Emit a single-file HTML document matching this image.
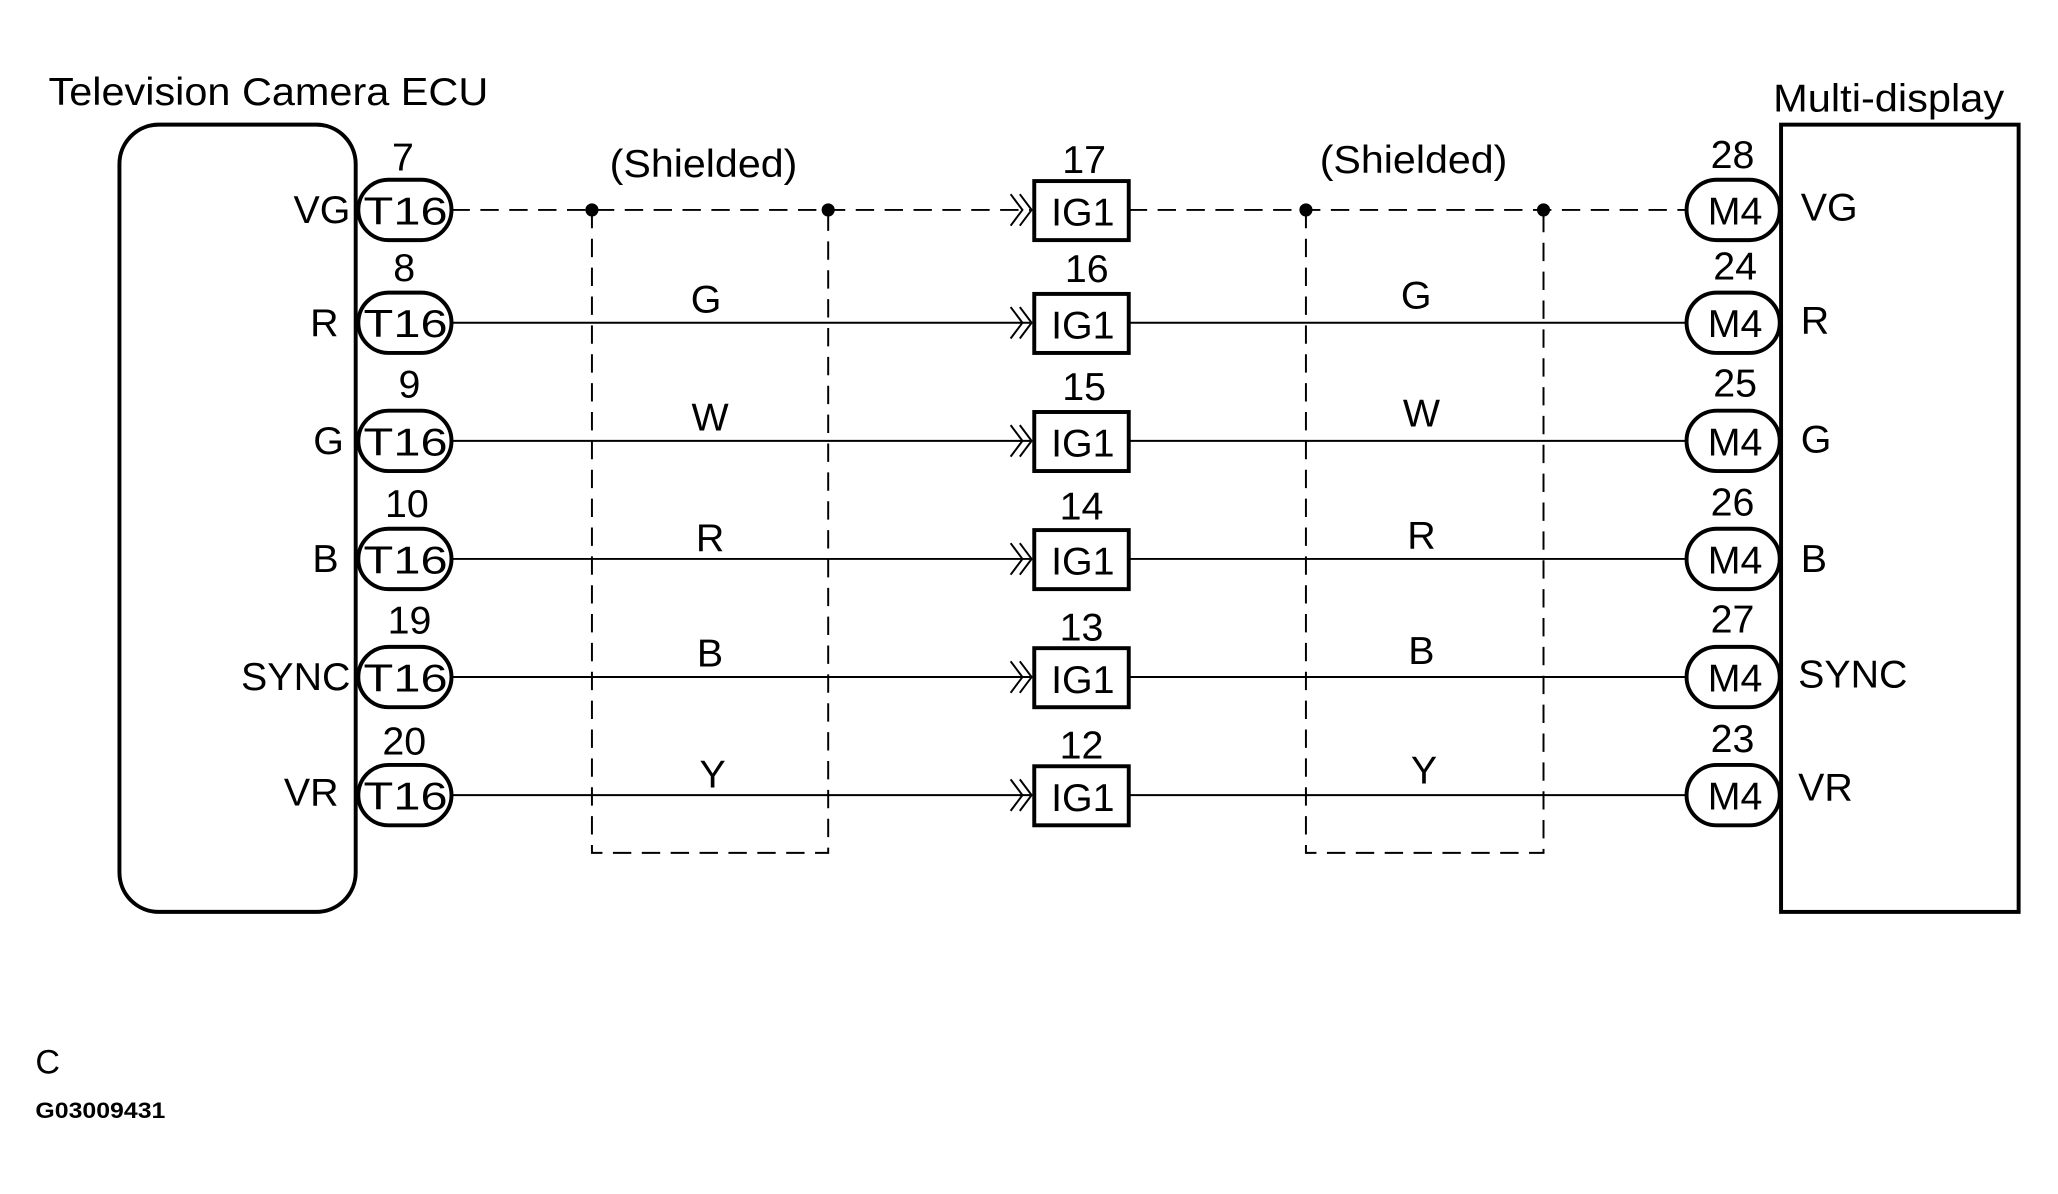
<!DOCTYPE html>
<html><head><meta charset="utf-8"><style>html,body{margin:0;padding:0;background:#fff}svg{display:block}</style></head>
<body>
<svg width="2058" height="1194" viewBox="0 0 1568 910" preserveAspectRatio="none" xmlns="http://www.w3.org/2000/svg" font-family="Liberation Sans, sans-serif">
<rect width="1568" height="910" fill="#fff"/>
<g fill="none" stroke="#000">
<rect x="91" y="95" width="180" height="600" rx="30" stroke-width="3"/>
<rect x="1357" y="95" width="181" height="600" stroke-width="3"/>
<path d="M451 160 V650 H631 V160" stroke-width="1.5" stroke-dasharray="14,8"/>
<path d="M995 160 V650 H1176 V160" stroke-width="1.5" stroke-dasharray="14,8"/>
<line x1="344" y1="160" x2="785" y2="160" stroke-width="1.5" stroke-dasharray="14,8"/>
<line x1="860" y1="160" x2="1285" y2="160" stroke-width="1.5" stroke-dasharray="14,8"/>
<g stroke-width="1.5">
<line x1="344" y1="246" x2="785" y2="246"/><line x1="860" y1="246" x2="1285" y2="246"/>
<line x1="344" y1="336" x2="785" y2="336"/><line x1="860" y1="336" x2="1285" y2="336"/>
<line x1="344" y1="426" x2="785" y2="426"/><line x1="860" y1="426" x2="1285" y2="426"/>
<line x1="344" y1="516" x2="785" y2="516"/><line x1="860" y1="516" x2="1285" y2="516"/>
<line x1="344" y1="606" x2="785" y2="606"/><line x1="860" y1="606" x2="1285" y2="606"/>
<path d="M770 148 L779 160 L770 172 M777 148 L786 160 L777 172"/>
<path d="M770 234 L779 246 L770 258 M777 234 L786 246 L777 258"/>
<path d="M770 324 L779 336 L770 348 M777 324 L786 336 L777 348"/>
<path d="M770 414 L779 426 L770 438 M777 414 L786 426 L777 438"/>
<path d="M770 504 L779 516 L770 528 M777 504 L786 516 L777 528"/>
<path d="M770 594 L779 606 L770 618 M777 594 L786 606 L777 618"/>
</g>
<g fill="#fff" stroke-width="3">
<rect x="273" y="137" width="71" height="46" rx="23"/><rect x="273" y="223" width="71" height="46" rx="23"/>
<rect x="273" y="313" width="71" height="46" rx="23"/><rect x="273" y="403" width="71" height="46" rx="23"/>
<rect x="273" y="493" width="71" height="46" rx="23"/><rect x="273" y="583" width="71" height="46" rx="23"/>
<rect x="1285" y="137" width="71" height="46" rx="23"/><rect x="1285" y="223" width="71" height="46" rx="23"/>
<rect x="1285" y="313" width="71" height="46" rx="23"/><rect x="1285" y="403" width="71" height="46" rx="23"/>
<rect x="1285" y="493" width="71" height="46" rx="23"/><rect x="1285" y="583" width="71" height="46" rx="23"/>
<rect x="788" y="138" width="72" height="45"/><rect x="788" y="224" width="72" height="45"/>
<rect x="788" y="314" width="72" height="45"/><rect x="788" y="404" width="72" height="45"/>
<rect x="788" y="494" width="72" height="45"/><rect x="788" y="584" width="72" height="45"/>
</g>
</g>
<g fill="#000"><circle cx="451" cy="160" r="5"/><circle cx="631" cy="160" r="5"/><circle cx="995" cy="160" r="5"/><circle cx="1176" cy="160" r="5"/></g>
<g font-size="30" text-anchor="middle">
<text x="309" y="171" textLength="64" lengthAdjust="spacingAndGlyphs">T16</text>
<text x="309" y="257" textLength="64" lengthAdjust="spacingAndGlyphs">T16</text>
<text x="309" y="347" textLength="64" lengthAdjust="spacingAndGlyphs">T16</text>
<text x="309" y="437" textLength="64" lengthAdjust="spacingAndGlyphs">T16</text>
<text x="309" y="527" textLength="64" lengthAdjust="spacingAndGlyphs">T16</text>
<text x="309" y="617" textLength="64" lengthAdjust="spacingAndGlyphs">T16</text>
<text x="1322" y="171">M4</text><text x="1322" y="257">M4</text><text x="1322" y="347">M4</text>
<text x="1322" y="437">M4</text><text x="1322" y="527">M4</text><text x="1322" y="617">M4</text>
<text x="825" y="172">IG1</text><text x="825" y="258">IG1</text><text x="825" y="348">IG1</text>
<text x="825" y="438">IG1</text><text x="825" y="528">IG1</text><text x="825" y="618">IG1</text>
<text x="307" y="130">7</text><text x="308" y="214">8</text><text x="312" y="303">9</text>
<text x="310" y="394">10</text><text x="312" y="483">19</text><text x="308" y="575">20</text>
<text x="826" y="132">17</text><text x="828" y="215">16</text><text x="826" y="305">15</text>
<text x="824" y="396">14</text><text x="824" y="488">13</text><text x="824" y="578">12</text>
<text x="1320" y="128">28</text><text x="1322" y="213">24</text><text x="1322" y="302">25</text>
<text x="1320" y="393">26</text><text x="1320" y="482">27</text><text x="1320" y="573">23</text>
<text x="538" y="238">G</text><text x="541" y="328">W</text><text x="541" y="420">R</text>
<text x="541" y="508">B</text><text x="543" y="600">Y</text>
<text x="1079" y="235">G</text><text x="1083" y="325">W</text><text x="1083" y="418">R</text>
<text x="1083" y="506">B</text><text x="1085" y="597">Y</text>
<text x="536" y="135" textLength="143" lengthAdjust="spacingAndGlyphs">(Shielded)</text>
<text x="1077" y="132" textLength="143" lengthAdjust="spacingAndGlyphs">(Shielded)</text>
</g>
<g font-size="30" text-anchor="end">
<text x="267" y="170">VG</text><text x="258" y="256">R</text><text x="262" y="346">G</text>
<text x="258" y="436">B</text><text x="267" y="526">SYNC</text><text x="258" y="614">VR</text>
</g>
<g font-size="30">
<text x="1372" y="168">VG</text><text x="1372" y="254">R</text><text x="1372" y="345">G</text>
<text x="1372" y="436">B</text><text x="1370" y="524">SYNC</text><text x="1370" y="610">VR</text>
<text x="37" y="80" textLength="335" lengthAdjust="spacingAndGlyphs">Television Camera ECU</text>
<text x="1351" y="85" textLength="176" lengthAdjust="spacingAndGlyphs">Multi-display</text>
<text x="27" y="818" font-size="26">C</text>
</g>
<text x="27" y="852" font-size="17" font-weight="bold" textLength="99" lengthAdjust="spacingAndGlyphs">G03009431</text>
</svg>
</body></html>
